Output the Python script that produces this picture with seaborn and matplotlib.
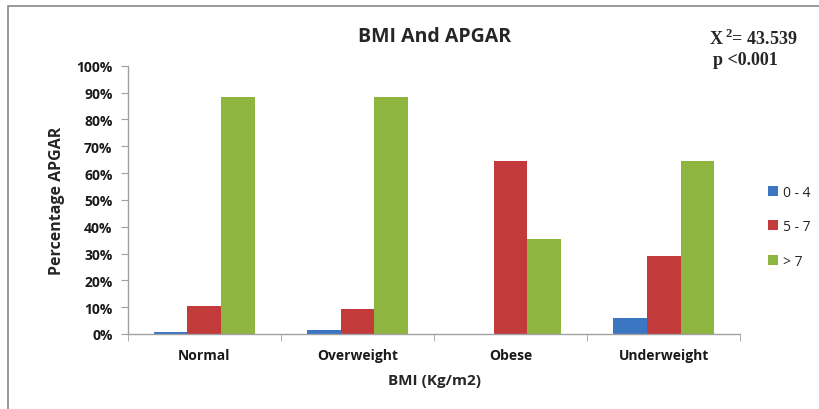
import seaborn as sns
import matplotlib.pyplot as plt
import pandas as pd
from matplotlib.patches import Rectangle
from matplotlib.ticker import PercentFormatter

categories = ['Normal', 'Overweight', 'Obese', 'Underweight']
apgar_groups = ['0 - 4', '5 - 7', '> 7']
vals_0_4 = [0.6, 1.5, 0.0, 6.0]
vals_5_7 = [10.4, 9.3, 64.6, 29.2]
vals_gt7 = [88.5, 88.5, 35.4, 64.6]
colors = ['#3b76c2', '#c33a3b', '#8db53f']

rows = []
for grp, vals in zip(apgar_groups, [vals_0_4, vals_5_7, vals_gt7]):
    for c, v in zip(categories, vals):
        rows.append({'BMI': c, 'APGAR': grp, 'pct': v})
df = pd.DataFrame(rows)

sns.set_style('white')
plt.rcParams['font.family'] = ['Open Sans', 'DejaVu Sans']
plt.rcParams['mathtext.fontset'] = 'custom'
plt.rcParams['mathtext.rm'] = 'Liberation Serif:bold'
plt.rcParams['mathtext.bf'] = 'Liberation Serif:bold'

fig = plt.figure(figsize=(8.19, 4.10), dpi=100)
ax = fig.add_axes([0.156, 0.183, 0.748, 0.654])
sns.barplot(data=df, x='BMI', y='pct', hue='APGAR', palette=colors,
            order=categories, hue_order=apgar_groups, width=0.66,
            saturation=1, linewidth=0, ax=ax, legend=True)

ax.set_ylim(0, 100)
ax.set_xlim(-0.5, 3.5)
ax.set_yticks(range(0, 101, 10))
ax.yaxis.set_major_formatter(PercentFormatter(decimals=0))
ax.set_xticks([-0.5, 0.5, 1.5, 2.5, 3.5], minor=True)
ax.tick_params(axis='x', which='major', length=0, labelsize=10, pad=10)
ax.tick_params(axis='x', which='minor', length=5, color='#a0a0a0', direction='out', bottom=True)
ax.tick_params(axis='y', length=5, color='#a0a0a0', direction='out', left=True, labelsize=10, pad=6)
for lab in ax.get_xticklabels() + ax.get_yticklabels():
    lab.set_fontweight('bold')
    lab.set_color('#1a1a1a')
for s in ['top', 'right']:
    ax.spines[s].set_visible(False)
for s in ['left', 'bottom']:
    ax.spines[s].set_color('#a0a0a0')
    ax.spines[s].set_linewidth(1)

ax.set_xlabel('BMI (Kg/m2)', fontsize=11, fontweight='bold', labelpad=8)
ax.set_ylabel('Percentage APGAR', fontsize=11.5, fontweight='bold', labelpad=8)
ax.set_title('BMI And APGAR', fontsize=14, fontweight='bold', pad=18)

ax.legend(loc='center left', bbox_to_anchor=(1.025, 0.4), frameon=False,
          fontsize=10, handlelength=0.7, handleheight=0.7, handletextpad=0.4,
          labelspacing=1.4)

fig.text(0.866, 0.905, r'X$\,^{2}$= 43.539', family='Liberation Serif',
         fontweight='bold', fontsize=13, ha='left', va='center')
fig.text(0.870, 0.853, 'p <0.001', family='Liberation Serif',
         fontweight='bold', fontsize=13, ha='left', va='center')

fig.patches.append(Rectangle((0.01, -0.01), 1.2, 0.992, transform=fig.transFigure,
                             fill=False, edgecolor='#888888', linewidth=1.2))

fig.savefig('out.png', dpi=100)
